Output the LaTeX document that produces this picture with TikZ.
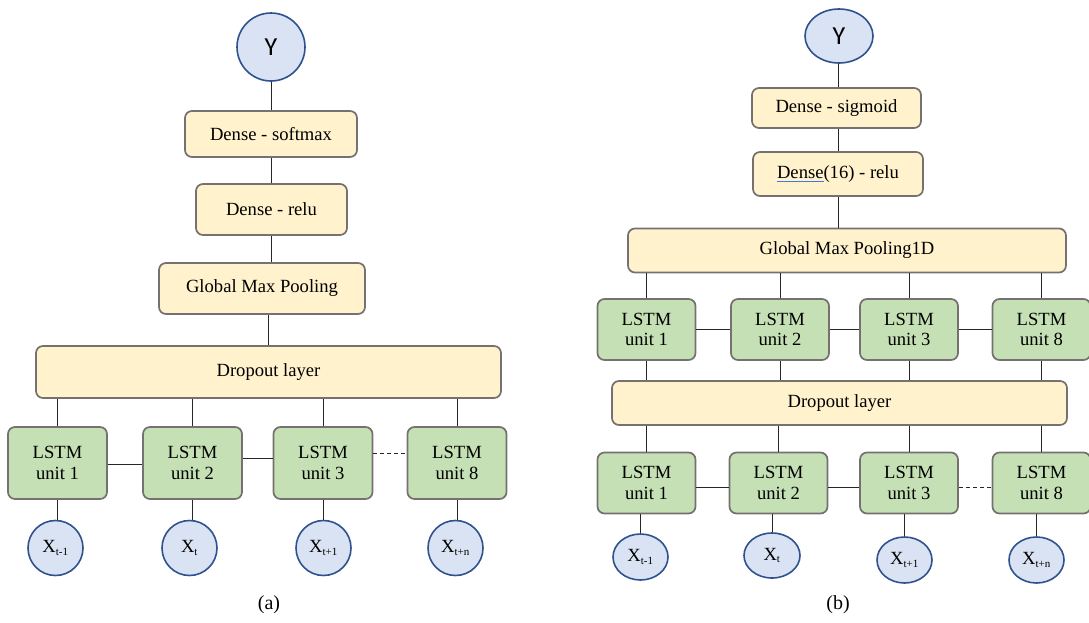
\documentclass[tikz,border=0pt]{standalone}
\usepackage{fontspec}
\setmainfont{Liberation Serif}
\newfontfamily\ylabelfont{Carlito}
\usetikzlibrary{shapes.geometric}

\definecolor{layerfill}{HTML}{FFF2CC}
\definecolor{lstmfill}{HTML}{C5E0B4}
\definecolor{boxedge}{HTML}{767171}
\definecolor{nodefill}{HTML}{DAE3F3}
\definecolor{nodeedge}{HTML}{2F528F}
\definecolor{squiggle}{HTML}{3B7BE8}

\tikzset{
  base/.style={rectangle, rounded corners=7pt, draw=boxedge, line width=1.7pt,
               inner sep=0pt, align=center, font=\fontsize{18.6}{20.5}\selectfont},
  layerbox/.style={base, fill=layerfill},
  lstmbox/.style={base, fill=lstmfill, minimum width=99pt, minimum height=72pt},
  lstmboxb/.style={base, fill=lstmfill, minimum width=98pt, minimum height=61pt},
  outnode/.style={ellipse, draw=nodeedge, fill=nodefill, line width=1.6pt, inner sep=0pt,
                  font=\ylabelfont\fontsize{26}{26}\selectfont},
  innode/.style={ellipse, draw=nodeedge, fill=nodefill, line width=1.6pt, inner sep=0pt,
                 font=\fontsize{18.6}{20}\selectfont},
  link/.style={draw=black!85, line width=0.9pt},
  caption/.style={font=\fontsize{20}{22}\selectfont}
}

\newcommand{\xin}[1]{X\textsubscript{\fontsize{11}{11}\selectfont #1}}
% word with a thin blue proofing underline
\newcommand{\marked}[1]{\setbox0\hbox{#1}\rlap{\textcolor{squiggle}{\rule[-3.5pt]{\wd0}{1.1pt}}}\box0}

\begin{document}
\begin{tikzpicture}[x=1pt, y=-1pt]
\useasboundingbox (0,0) rectangle (1089,622);

% ---------------- left network ----------------
\node[outnode, minimum width=68pt, minimum height=68pt] (ya) at (271,47) {Y};
\node[layerbox, minimum width=172pt, minimum height=46pt] (softa) at (271,134) {Dense - softmax};
\node[layerbox, minimum width=151pt, minimum height=51pt] (relua) at (271.5,209.5) {Dense - relu};
\node[layerbox, minimum width=206pt, minimum height=51pt] (gmpa) at (262,288.5) {Global Max Pooling};
\node[layerbox, minimum width=465pt, minimum height=52pt] (dropa) at (268.5,372) {Dropout layer};

\node[lstmbox] (la1) at (57.5,463) {LSTM\\unit 1};
\node[lstmbox] (la2) at (192.5,463) {LSTM\\unit 2};
\node[lstmbox] (la3) at (323,463) {LSTM\\unit 3};
\node[lstmbox] (la4) at (457,463) {LSTM\\unit 8};

\node[innode, minimum width=55pt, minimum height=55pt] (xa1) at (55.5,548) {\xin{t-1}};
\node[innode, minimum width=55pt, minimum height=55pt] (xa2) at (189.5,548) {\xin{t}};
\node[innode, minimum width=55pt, minimum height=55pt] (xa3) at (323.5,548) {\xin{t+1}};
\node[innode, minimum width=55pt, minimum height=55pt] (xa4) at (455.5,548) {\xin{t+n}};

\node[caption] (capa) at (269,605) {(a)};

\draw[link] (ya.south) -- (ya.south |- softa.north);
\draw[link] (relua.north) -- (relua.north |- softa.south);
\draw[link] (relua.south) -- (relua.south |- gmpa.north);
\draw[link] (dropa.north) -- (dropa.north |- gmpa.south);
\foreach \i in {1,2,3,4}{
  \draw[link] (la\i.north) -- (la\i.north |- dropa.south);
  \draw[link] (la\i.south) -- (la\i.south |- xa\i.north);
}
\draw[link] ([yshift=-1pt]la1.east) -- ([yshift=-1pt]la1.east -| la2.west);
\draw[link] ([yshift=5pt]la2.east) -- ([yshift=5pt]la2.east -| la3.west);
\draw[link, dashed, dash pattern=on 4pt off 3pt] ([yshift=10pt]la3.east) -- ([yshift=10pt]la3.east -| la4.west);

% ---------------- right network ----------------
\node[outnode, minimum width=68pt, minimum height=54pt] (yb) at (839,36) {Y};
\node[layerbox, minimum width=169pt, minimum height=40pt] (sigb) at (836.5,108) {Dense - sigmoid};
\node[layerbox, minimum width=170pt, minimum height=44pt] (d16b) at (838,174)
  {\marked{Dense}(16) - relu};
\node[layerbox, minimum width=438pt, minimum height=44pt] (gmpb) at (847,250.5) {Global Max Pooling1D};

\node[lstmboxb] (tb1) at (646.5,329.5) {LSTM\\unit 1};
\node[lstmboxb] (tb2) at (780,329.5) {LSTM\\unit 2};
\node[lstmboxb] (tb3) at (909,329.5) {LSTM\\unit 3};
\node[lstmboxb] (tb4) at (1041.5,329.5) {LSTM\\unit 8};

\node[layerbox, minimum width=455pt, minimum height=44pt] (dropb) at (839.5,403) {Dropout layer};

\node[lstmboxb] (bb1) at (646.5,483) {LSTM\\unit 1};
\node[lstmboxb] (bb2) at (778.5,483) {LSTM\\unit 2};
\node[lstmboxb] (bb3) at (909,483) {LSTM\\unit 3};
\node[lstmboxb] (bb4) at (1041.5,483) {LSTM\\unit 8};

\node[innode, minimum width=55pt, minimum height=46pt] (xb1) at (640.5,557) {\xin{t-1}};
\node[innode, minimum width=56pt, minimum height=45pt] (xb2) at (772,555.5) {\xin{t}};
\node[innode, minimum width=55pt, minimum height=46pt] (xb3) at (904.5,560) {\xin{t+1}};
\node[innode, minimum width=55pt, minimum height=46pt] (xb4) at (1036.5,560) {\xin{t+n}};

\node[caption] (capb) at (838,605) {(b)};

\draw[link] (sigb.north -| d16b.north) -- (d16b.north |- yb.south);
\draw[link] (d16b.north) -- (d16b.north |- sigb.south);
\draw[link] (d16b.south) -- (d16b.south |- gmpb.north);
\foreach \i in {1,2,3,4}{
  \draw[link] (tb\i.north) -- (tb\i.north |- gmpb.south);
  \draw[link] (tb\i.south) -- (tb\i.south |- dropb.north);
  \draw[link] (bb\i.north) -- (bb\i.north |- dropb.south);
  \draw[link] (xb\i.north) -- (xb\i.north |- bb\i.south);
}
\draw[link] (tb1.east) -- (tb2.west);
\draw[link] (tb2.east) -- (tb3.west);
\draw[link] (tb3.east) -- (tb4.west);
\draw[link] ([yshift=-4pt]bb1.east) -- ([yshift=-4pt]bb1.east -| bb2.west);
\draw[link] ([yshift=-4pt]bb2.east) -- ([yshift=-4pt]bb2.east -| bb3.west);
\draw[link, dashed, dash pattern=on 4pt off 3pt] ([yshift=-4pt]bb3.east) -- ([yshift=-4pt]bb3.east -| bb4.west);
\end{tikzpicture}
\end{document}
